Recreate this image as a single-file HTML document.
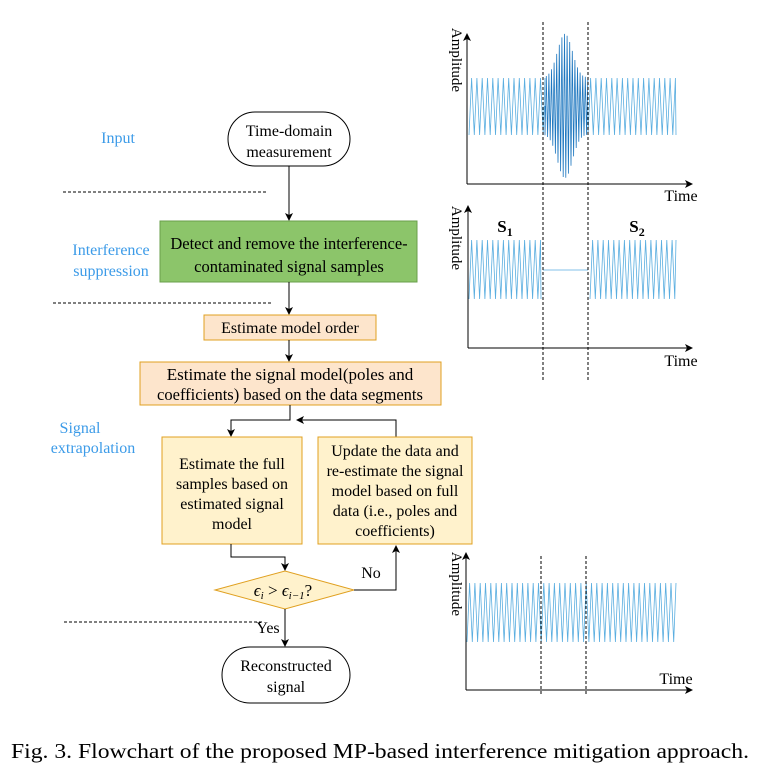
<!DOCTYPE html>
<html><head><meta charset="utf-8"><style>
body{margin:0;background:#fff;}
svg text{font-family:"Liberation Serif",serif;}
</style></head><body>
<svg id="s" width="765" height="777" viewBox="0 0 765 777" xmlns="http://www.w3.org/2000/svg">
<defs>
<marker id="a" markerWidth="8" markerHeight="8" refX="7" refY="4" orient="auto" markerUnits="userSpaceOnUse"><path d="M0,0 L8,4 L0,8 L2,4 z" fill="#000"/></marker>
</defs>
<g id="sig" fill="none" stroke="#5aaee0" stroke-width="0.8"></g>
<g stroke="#000" stroke-width="1" fill="none">
<line x1="467" y1="184" x2="467" y2="34" marker-end="url(#a)"/>
<line x1="467" y1="184" x2="692" y2="184" marker-end="url(#a)"/>
<line x1="468" y1="348" x2="468" y2="206" marker-end="url(#a)"/>
<line x1="468" y1="348" x2="692" y2="348" marker-end="url(#a)"/>
<line x1="466" y1="690" x2="466" y2="553" marker-end="url(#a)"/>
<line x1="466" y1="690" x2="692" y2="690" marker-end="url(#a)"/>
<g stroke-dasharray="3,2">
<line x1="543" y1="22" x2="543" y2="382"/><line x1="588" y1="22" x2="588" y2="382"/>
<line x1="541" y1="556" x2="541" y2="694"/><line x1="586" y1="556" x2="586" y2="694"/>
<line x1="63" y1="192" x2="268" y2="192"/><line x1="53" y1="303" x2="271" y2="303"/>
<line x1="64" y1="622" x2="262" y2="622"/>
</g>
<rect x="228" y="112" width="122" height="54" rx="27"/>
<line x1="289" y1="166" x2="289" y2="220" marker-end="url(#a)"/>
<rect x="160" y="221" width="257" height="61" fill="#8cc56a" stroke="#6a9f4b"/>
<line x1="289" y1="282" x2="289" y2="314" marker-end="url(#a)"/>
<rect x="204" y="315" width="172" height="25" fill="#fde5cc" stroke="#e0a020"/>
<line x1="289" y1="340" x2="289" y2="361" marker-end="url(#a)"/>
<rect x="140" y="362" width="301" height="43" fill="#fde5cc" stroke="#e0a020"/>
<polyline points="290,405 290,420 231,420 231,436" marker-end="url(#a)"/>
<polyline points="396,437 396,420 297,420" marker-end="url(#a)"/>
<rect x="162" y="437" width="140" height="107" fill="#fff2cc" stroke="#e0a020"/>
<rect x="318" y="437" width="154" height="107" fill="#fff2cc" stroke="#e0a020"/>
<polyline points="231,544 231,557 285,557 285,570" marker-end="url(#a)"/>
<polygon points="215,590 285,571 354,590 285,609" fill="#fff2cc" stroke="#e0a020"/>
<polyline points="354,590 396,590 396,546" marker-end="url(#a)"/>
<line x1="285" y1="609" x2="285" y2="646" marker-end="url(#a)"/>
<rect x="222" y="647" width="128" height="56" rx="28"/>
</g>
<g font-size="16" text-anchor="middle" fill="#000">
<text x="289" y="136">Time-domain</text><text x="289" y="157">measurement</text>
<text x="289" y="249" font-size="16.5">Detect and remove the interference-</text><text x="289" y="272" font-size="16.5">contaminated signal samples</text>
<text x="290" y="333">Estimate model order</text>
<text x="290" y="380" font-size="17">Estimate the signal model(poles and</text><text x="290" y="400" font-size="16.5">coefficients) based on the data segments</text>
<text x="232" y="469">Estimate the full</text><text x="232" y="489">samples based on</text><text x="232" y="509">estimated signal</text><text x="232" y="529">model</text>
<text x="395" y="456">Update the data and</text><text x="395" y="476">re-estimate the signal</text><text x="395" y="496">model based on full</text><text x="395" y="516">data (i.e., poles and</text><text x="395" y="536">coefficients)</text>
<text x="283" y="596" font-style="italic" font-size="17">ϵ<tspan font-size="11" dy="3">i</tspan><tspan dy="-3" font-style="normal"> &gt; </tspan>ϵ<tspan font-size="11" dy="3">i−1</tspan><tspan dy="-3" font-style="normal">?</tspan></text>
<text x="371" y="578">No</text>
<text x="268" y="633">Yes</text>
<text x="286" y="671">Reconstructed</text><text x="286" y="692">signal</text>
<text x="681" y="201">Time</text><text x="681" y="366">Time</text><text x="676" y="684">Time</text>
<text x="505" y="232" font-weight="bold" font-size="17">S<tspan font-size="12" dy="4">1</tspan></text>
<text x="637" y="232" font-weight="bold" font-size="17">S<tspan font-size="12" dy="4">2</tspan></text>
<text transform="translate(452,60) rotate(90)" font-size="15">Amplitude</text>
<text transform="translate(452,238) rotate(90)" font-size="15">Amplitude</text>
<text transform="translate(452,584) rotate(90)" font-size="15">Amplitude</text>
</g>
<g font-size="16" text-anchor="middle" fill="#3c9be8">
<text x="118" y="143">Input</text>
<text x="111" y="255">Interference</text><text x="111" y="276">suppression</text>
<text x="80" y="433">Signal</text><text x="93" y="453">extrapolation</text>
</g>
<text x="11" y="758" font-size="21" fill="#000" textLength="738" lengthAdjust="spacingAndGlyphs">Fig. 3.  Flowchart of the proposed MP-based interference mitigation approach.</text>
</svg>
<script>
var g=document.getElementById('sig'),ns='http://www.w3.org/2000/svg';
function zz(x0,x1,yt,yb){var d='',p=5.3,x=x0,up=true;d='M'+x0+','+yb;while(x<x1){x+=p/2;if(x>x1)x=x1;d+=' L'+x.toFixed(1)+','+(up?yt:yb);up=!up;}
var e=document.createElementNS(ns,'path');e.setAttribute('d',d);g.appendChild(e);}
zz(469,545,78,135);zz(588,676,78,135);
zz(469,541,240,299);zz(590,676,240,299);
var l=document.createElementNS(ns,'path');l.setAttribute('d','M543,270 L588,270');g.appendChild(l);
zz(467,676,583,642);
var d='M545,106',s=1;for(var x=545;x<=588;x+=1.3){var env=Math.exp(-Math.pow((x-566)/11,2));var a=28+env*50*(0.5+0.5*Math.abs(Math.sin(x*7.3)));d+=' L'+x.toFixed(1)+','+(106+s*a).toFixed(1);s=-s;}
var q=document.createElementNS(ns,'path');q.setAttribute('d',d);q.setAttribute('stroke','#1f78c0');g.appendChild(q);
</script>
</body></html>
